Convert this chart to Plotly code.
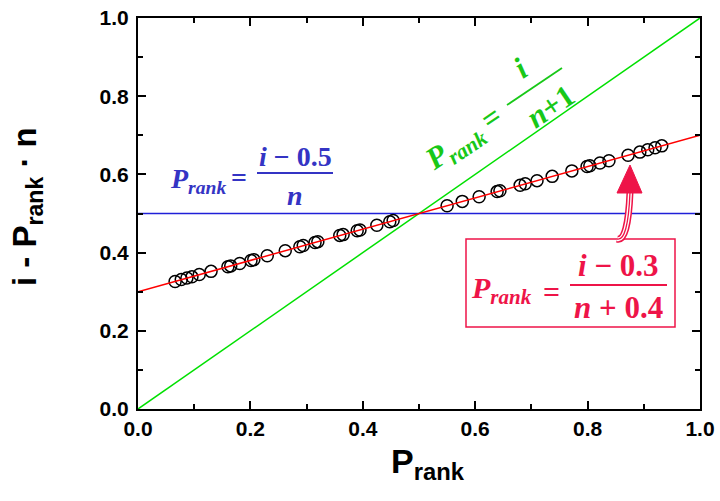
import plotly.graph_objects as go

# ---- data ----
p_rank_pts = [0.066, 0.077, 0.087, 0.096, 0.109, 0.130, 0.160, 0.165, 0.181, 0.201,
              0.206, 0.230, 0.262, 0.288, 0.294, 0.315, 0.320, 0.359, 0.365, 0.390,
              0.395, 0.425, 0.448, 0.454, 0.550, 0.577, 0.607, 0.639, 0.644, 0.680,
              0.689, 0.710, 0.737, 0.772, 0.799, 0.804, 0.822, 0.838, 0.872, 0.893,
              0.907, 0.920, 0.932]
resid_pts = [0.326, 0.331, 0.335, 0.338, 0.344, 0.352, 0.364, 0.366, 0.372, 0.380,
             0.382, 0.392, 0.405, 0.415, 0.418, 0.426, 0.428, 0.444, 0.446, 0.456,
             0.458, 0.470, 0.479, 0.482, 0.520, 0.531, 0.543, 0.556, 0.558, 0.572,
             0.576, 0.584, 0.595, 0.609, 0.620, 0.622, 0.629, 0.635, 0.649, 0.657,
             0.663, 0.668, 0.673]

line_x = [0.0, 1.0]
green_y = [0.0, 1.0]   # P = i/(n+1)
blue_y = [0.5, 0.5]    # P = (i-0.5)/n
red_y = [0.3, 0.7]     # P = (i-0.3)/(n+0.4)

tick_vals = [0.0, 0.2, 0.4, 0.6, 0.8, 1.0]
tick_text = ["0.0", "0.2", "0.4", "0.6", "0.8", "1.0"]

GREEN = "#00e000"
BLUE = "#2020d8"
RED = "#ff0000"
GTXT = "#18c818"
BTXT = "#3434c4"
RTXT = "#ee1448"

fig = go.Figure()
fig.add_trace(go.Scatter(x=line_x, y=green_y, mode="lines", line=dict(color=GREEN, width=1.5)))
fig.add_trace(go.Scatter(x=line_x, y=blue_y, mode="lines", line=dict(color=BLUE, width=1.5)))
fig.add_trace(go.Scatter(x=p_rank_pts, y=resid_pts, mode="markers",
                         marker=dict(symbol="circle-open", size=12, color="black",
                                     line=dict(width=1.5, color="black"))))
fig.add_trace(go.Scatter(x=line_x, y=red_y, mode="lines", line=dict(color=RED, width=1.5)))

MATH = "Liberation Serif"

def px(x):
    return (x - 138) / 562.0

def py(y):
    return (409 - y) / 391.0

ann = []
shapes = []

def txt(x, y, s, color, size, angle=0):
    ann.append(dict(x=px(x), y=py(y), xref="x", yref="y", text=s, showarrow=False,
                    font=dict(family=MATH, size=size, color=color),
                    textangle=angle, xanchor="center", yanchor="middle"))

def hline(x0, y0, x1, y1, color, w=1.8):
    shapes.append(dict(type="line", xref="x", yref="y", x0=px(x0), y0=py(y0),
                       x1=px(x1), y1=py(y1), line=dict(color=color, width=w)))

# blue formula
txt(198, 180, "<b><i>P</i><sub><i>rank</i></sub></b>", BTXT, 28)
txt(239, 177, "<b>=</b>", BTXT, 28)
txt(295, 156, "<b><i>i</i> − 0.5</b>", BTXT, 28)
hline(257, 173, 333, 173, BTXT)
txt(295, 195, "<b><i>n</i></b>", BTXT, 28)

# green formula (rotated)
ang = -34
txt(455, 147, "<b><i>P</i><sub><i>rank</i></sub></b>", GTXT, 31, ang)
txt(491, 117, "<b>=</b>", GTXT, 31, ang)
txt(520, 68, "<b><i>i</i></b>", GTXT, 31, ang)
hline(507, 105, 562, 68, GTXT)
txt(550, 106, "<b><i>n</i>+1</b>", GTXT, 31, ang)

# red formula in box
shapes.append(dict(type="rect", xref="x", yref="y", x0=px(466), y0=py(327), x1=px(675), y1=py(239),
                   line=dict(color=RTXT, width=1.5), fillcolor="white", layer="above"))
txt(501, 290, "<b><i>P</i><sub><i>rank</i></sub></b>", RTXT, 30)
txt(551, 291, "<b>=</b>", RTXT, 30)
txt(618, 265, "<b><i>i</i> − 0.3</b>", RTXT, 31)
hline(570, 285, 667, 285, RTXT)
txt(618, 307, "<b><i>n</i> + 0.4</b>", RTXT, 31)

# red hollow arrow
shaft = f"M {px(630)} {py(192)} Q {px(628)} {py(242)} {px(617)} {py(239)}"
for col, w in [(RTXT, 7), ("white", 4), (RTXT, 1.3)]:
    shapes.append(dict(type="path", xref="x", yref="y", path=shaft, line=dict(color=col, width=w)))
head = f"M {px(630)} {py(165)} L {px(642)} {py(193)} L {px(617)} {py(193)} Z"
shapes.append(dict(type="path", xref="x", yref="y", path=head, fillcolor=RTXT, line=dict(color=RTXT, width=1)))

# axis titles
ann.append(dict(x=px(428), y=py(463), xref="paper", yref="paper", showarrow=False,
                text="<b>P<sub>rank</sub></b>", font=dict(family="Liberation Sans", size=34, color="black"),
                xanchor="center", yanchor="middle"))
ann.append(dict(x=px(27), y=py(207), xref="paper", yref="paper", showarrow=False, textangle=-90,
                text="<b>i - P<sub>rank</sub> · n</b>", font=dict(family="Liberation Sans", size=33, color="black"),
                xanchor="center", yanchor="middle"))

axis_common = dict(range=[0, 1], tickvals=tick_vals, ticktext=tick_text, ticks="inside", ticklen=8,
                   tickwidth=1.5, tickcolor="black", showline=True, linecolor="black", linewidth=2,
                   mirror="ticks", showgrid=False, zeroline=False, automargin=False,
                   tickfont=dict(family="Liberation Sans", size=21, color="black", weight="bold"),
                   minor=dict(dtick=0.1, ticks="inside", ticklen=5, tickwidth=1.5, tickcolor="black",
                              showgrid=False))

fig.update_layout(
    width=720, height=501, showlegend=False,
    margin=dict(l=138, r=20, t=18, b=92, autoexpand=False),
    paper_bgcolor="white", plot_bgcolor="white",
    xaxis=axis_common, yaxis=axis_common,
    annotations=ann, shapes=shapes,
)
fig.update_yaxes(ticklabelstandoff=3)

fig.write_html("out.html")
